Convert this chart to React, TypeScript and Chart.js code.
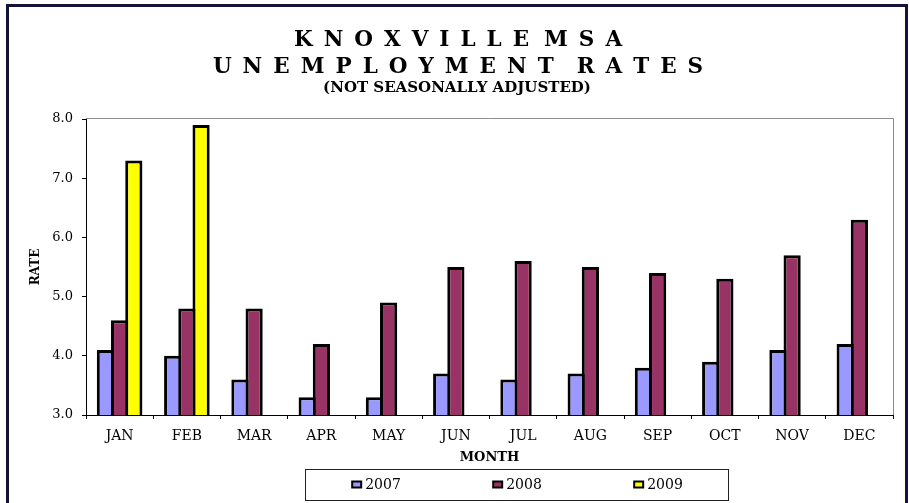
import { useEffect, useRef } from 'react';
import { Chart, registerables } from 'chart.js';

Chart.register(...registerables);

const MONTHS = ['JAN', 'FEB', 'MAR', 'APR', 'MAY', 'JUN', 'JUL', 'AUG', 'SEP', 'OCT', 'NOV', 'DEC'];
const RATE_2007 = [4.1, 4.0, 3.6, 3.3, 3.3, 3.7, 3.6, 3.7, 3.8, 3.9, 4.1, 4.2];
const RATE_2008 = [4.6, 4.8, 4.8, 4.2, 4.9, 5.5, 5.6, 5.5, 5.4, 5.3, 5.7, 6.3];
const RATE_2009 = [7.3, 7.9, null, null, null, null, null, null, null, null, null, null];
const SERIES_NAMES = ['2007', '2008', '2009'];
const SERIES_VALUES = [RATE_2007, RATE_2008, RATE_2009];
const SERIES_COLORS = ['#9999FF', '#993366', '#FFFF00'];

const TITLE_LINES = ['KNOXVILLE MSA', 'UNEMPLOYMENT RATES'];
const SUBTITLE = '(NOT SEASONALLY ADJUSTED)';
const Y_MIN = 3;
const Y_MAX = 8;
const Y_STEP = 1;

const SERIF = "'DejaVu Serif', serif";

// draws a line one letter at a time, with extra space between letters
function drawSpaced(ctx: CanvasRenderingContext2D, text: string, cx: number, y: number, gap: number, wordGap: number) {
    const chars = [...text];
    const adv = chars.map((ch, i) => {
        if (ch === ' ') return wordGap;
        return ctx.measureText(ch).width + (i < chars.length - 1 ? gap : 0);
    });
    const total = adv.reduce((a, b) => a + b, 0);
    let x = cx - total / 2;
    chars.forEach((ch, i) => {
        if (ch !== ' ') ctx.fillText(ch, x, y);
        x += adv[i];
    });
}

const titlePlugin = {
    id: 'spacedTitle',
    beforeDraw(chart: Chart) {
        const ctx = chart.ctx;
        ctx.save();
        ctx.fillStyle = '#000';
        ctx.textBaseline = 'alphabetic';
        ctx.textAlign = 'left';
        ctx.font = `bold 21.5px ${SERIF}`;
        drawSpaced(ctx, TITLE_LINES[0], 458, 46, 11, 4);
        drawSpaced(ctx, TITLE_LINES[1], 458, 73, 11, 12);
        ctx.font = `bold 15px ${SERIF}`;
        ctx.textAlign = 'center';
        ctx.fillText(SUBTITLE, 457, 92);
        ctx.restore();
    },
};

// gray top and right edges of the plot area
const plotFrame = {
    id: 'plotFrame',
    beforeDatasetsDraw(chart: Chart) {
        const { ctx, chartArea: a } = chart;
        ctx.save();
        ctx.strokeStyle = '#8c8c8c';
        ctx.lineWidth = 1;
        ctx.beginPath();
        ctx.moveTo(a.left, a.top - 0.5);
        ctx.lineTo(a.right + 0.5, a.top - 0.5);
        ctx.lineTo(a.right + 0.5, a.bottom);
        ctx.stroke();
        ctx.restore();
    },
};

// boxed legend, items centred in three equal columns
const boxLegend = {
    id: 'boxLegend',
    afterDraw(chart: Chart) {
        const ctx = chart.ctx;
        const left = 305.5, top = 469.5, w = 423, h = 31;
        ctx.save();
        ctx.strokeStyle = '#222';
        ctx.lineWidth = 1;
        ctx.strokeRect(left, top, w, h);
        ctx.font = `14px ${SERIF}`;
        ctx.textBaseline = 'middle';
        ctx.textAlign = 'left';
        const cols = chart.data.datasets.length;
        chart.data.datasets.forEach((ds, i) => {
            const label = String(ds.label);
            const tw = ctx.measureText(label).width;
            const itemW = 11 + 3 + tw;
            const cx = left + (w / cols) * (i + 0.5);
            const x0 = cx - itemW / 2;
            const cy = top + h / 2;
            ctx.fillStyle = ds.backgroundColor as string;
            ctx.fillRect(x0 + 1, cy - 3.5, 9, 6);
            ctx.strokeStyle = '#000';
            ctx.lineWidth = 2;
            ctx.strokeRect(x0 + 1, cy - 3.5, 9, 6);
            ctx.fillStyle = '#000';
            ctx.fillText(label, x0 + 14, cy + 0.5);
        });
        ctx.restore();
    },
};

export default function App() {
    const canvasRef = useRef<HTMLCanvasElement | null>(null);
    const chartInstance = useRef<Chart | null>(null);

    useEffect(() => {
        if (!canvasRef.current) return;
        if (chartInstance.current) chartInstance.current.destroy();

        const datasets = SERIES_NAMES.map((name, i) => ({
            label: name,
            data: SERIES_VALUES[i],
            backgroundColor: SERIES_COLORS[i],
            borderColor: '#000',
            borderWidth: 3,
            borderSkipped: false as const,
            categoryPercentage: 0.6335,
            barPercentage: 1.211,
        }));

        chartInstance.current = new Chart(canvasRef.current, {
            type: 'bar',
            data: { labels: MONTHS, datasets },
            plugins: [titlePlugin, plotFrame, boxLegend],
            options: {
                animation: false,
                responsive: true,
                maintainAspectRatio: false,
                layout: { padding: { top: 119, right: 16, bottom: 33, left: 0 } },
                plugins: {
                    legend: { display: false },
                    title: { display: false },
                    tooltip: { enabled: false },
                },
                scales: {
                    x: {
                        grid: { drawOnChartArea: false, drawTicks: true, tickLength: 4, color: '#000', offset: true },
                        border: { color: '#000', width: 1 },
                        ticks: { color: '#000', font: { family: SERIF, size: 14 }, padding: 9, maxRotation: 0, autoSkip: false },
                        title: {
                            display: true,
                            text: 'MONTH',
                            color: '#000',
                            font: { family: SERIF, size: 13, weight: 'bold' },
                            padding: { top: 0, bottom: 5 },
                        },
                        afterFit: (s: any) => { s.height = 55; },
                    },
                    y: {
                        min: Y_MIN,
                        max: Y_MAX,
                        grid: { drawOnChartArea: false, drawTicks: true, tickLength: 4, color: '#000' },
                        border: { color: '#000', width: 1 },
                        ticks: {
                            stepSize: Y_STEP,
                            color: '#000',
                            font: { family: SERIF, size: 13 },
                            padding: 9,
                            callback: (v: any) => Number(v).toFixed(1),
                        },
                        title: {
                            display: true,
                            text: 'RATE',
                            color: '#000',
                            font: { family: SERIF, size: 12, weight: 'bold' },
                            padding: { top: 29, bottom: 0 },
                        },
                        afterFit: (s: any) => { s.width = 86; },
                    },
                },
            },
        });

        return () => {
            if (chartInstance.current) {
                chartInstance.current.destroy();
                chartInstance.current = null;
            }
        };
    }, []);

    return (
        <>
            <div style={{ position: 'absolute', left: 0, top: 0, width: 909, height: 503, background: '#fff' }}>
                <canvas ref={canvasRef}></canvas>
            </div>
            <div
                style={{
                    position: 'absolute',
                    left: 6,
                    top: 4,
                    width: 902,
                    height: 499,
                    boxSizing: 'border-box',
                    borderTop: '3px solid #14143a',
                    borderLeft: '3px solid #14143a',
                    borderRight: '3px solid #14143a',
                    pointerEvents: 'none',
                }}
            />
        </>
    );
}
